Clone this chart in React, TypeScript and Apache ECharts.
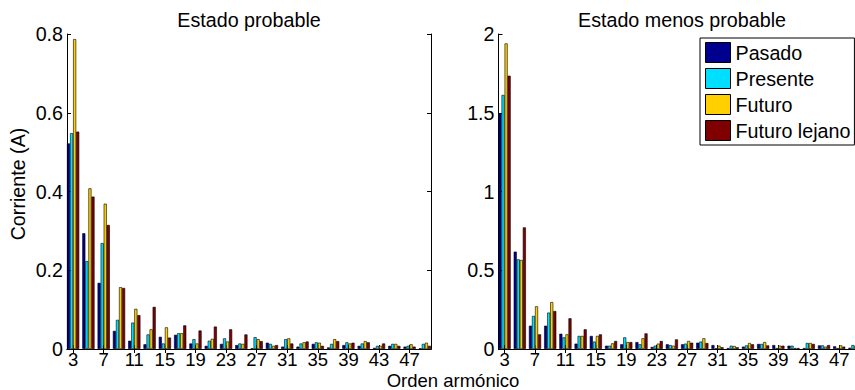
import React, { useEffect, useRef } from "react";
import * as echarts from "echarts";

const harmonics = [3, 5, 7, 9, 11, 13, 15, 17, 19, 21, 23, 25, 27, 29, 31, 33, 35, 37, 39, 41, 43, 45, 47, 49];
const tickLabels = [3, 7, 11, 15, 19, 23, 27, 31, 35, 39, 43, 47];
const seriesNames = ["Pasado", "Presente", "Futuro", "Futuro lejano"];
const seriesColors = ["#00008F", "#00DFFF", "#FFCF00", "#800000"];

const probPasado = [0.522, 0.294, 0.168, 0.046, 0.021, 0.012, 0.031, 0.036, 0.014, 0.008, 0.013, 0.01, 0.002, 0.016, 0.006, 0.006, 0.013, 0.004, 0.01, 0.008, 0.003, 0.008, 0.006, 0.002];
const probPresente = [0.548, 0.223, 0.269, 0.074, 0.067, 0.037, 0.014, 0.04, 0.025, 0.021, 0.027, 0.014, 0.03, 0.013, 0.025, 0.014, 0.017, 0.013, 0.017, 0.014, 0.008, 0.013, 0.008, 0.013];
const probFuturo = [0.787, 0.408, 0.369, 0.157, 0.102, 0.05, 0.055, 0.04, 0.014, 0.026, 0.019, 0.013, 0.025, 0.008, 0.027, 0.017, 0.016, 0.025, 0.014, 0.02, 0.008, 0.013, 0.012, 0.016];
const probLejano = [0.552, 0.387, 0.315, 0.155, 0.086, 0.107, 0.029, 0.06, 0.047, 0.057, 0.05, 0.037, 0.02, 0.01, 0.014, 0.019, 0.008, 0.02, 0.016, 0.017, 0.014, 0.008, 0.006, 0.008];

const menosPasado = [1.497, 0.618, 0.148, 0.148, 0.097, 0.034, 0.083, 0.021, 0.03, 0.044, 0.013, 0.03, 0.03, 0.04, 0.025, 0.006, 0.015, 0.032, 0.025, 0.021, 0.006, 0.023, 0.017, 0.008];
const menosPresente = [1.613, 0.569, 0.21, 0.231, 0.074, 0.083, 0.047, 0.021, 0.074, 0.03, 0.021, 0.025, 0.034, 0.047, 0.004, 0.021, 0.023, 0.032, 0.006, 0.021, 0.038, 0.023, 0.006, 0.025];
const menosFuturo = [1.94, 0.565, 0.271, 0.298, 0.093, 0.083, 0.083, 0.036, 0.044, 0.068, 0.034, 0.021, 0.051, 0.068, 0.021, 0.019, 0.038, 0.044, 0.021, 0.006, 0.038, 0.015, 0.023, 0.02];
const menosLejano = [1.735, 0.772, 0.093, 0.241, 0.195, 0.125, 0.093, 0.051, 0.044, 0.099, 0.051, 0.061, 0.04, 0.038, 0.011, 0.011, 0.03, 0.023, 0.021, 0.006, 0.032, 0.025, 0.015, 0.01];

const probSets = [probPasado, probPresente, probFuturo, probLejano];
const menosSets = [menosPasado, menosPresente, menosFuturo, menosLejano];

const FONT = "'Liberation Sans', Arial, Helvetica, sans-serif";
const FS = 19.7;
const FSX = 18.5;

export default function App() {
  const ref = useRef<HTMLDivElement>(null);
  useEffect(() => {
    if (!ref.current) return;
    const chart = echarts.init(ref.current, null, { renderer: "svg" });
    const axLine = { show: true, lineStyle: { color: "#000", width: 1 } };
    const grids = [
      { left: 67, top: 34, width: 364, height: 315 },
      { left: 498.5, top: 34, width: 362, height: 315 },
    ];
    const xAxes: any[] = [];
    const yAxes: any[] = [];
    const yMax = [0.8, 2];
    const yInt = [0.2, 0.5];
    [0, 1].forEach((g) => {
      xAxes.push({
        type: "value", gridIndex: g, position: "bottom", min: 2.2, max: 49.8,
        axisLine: axLine,
        axisTick: { show: true, inside: true, length: 4, customValues: tickLabels, lineStyle: { color: "#000" } },
        axisLabel: { show: true, customValues: tickLabels, margin: 1, color: "#000", fontFamily: FONT, fontSize: FSX },
        splitLine: { show: false },
      });
      xAxes.push({
        type: "value", gridIndex: g, position: "top", min: 2.2, max: 49.8,
        axisLine: axLine,
        axisTick: { show: true, inside: true, length: 4, customValues: tickLabels, lineStyle: { color: "#000" } },
        axisLabel: { show: false, customValues: tickLabels },
        splitLine: { show: false },
      });
      yAxes.push({
        type: "value", gridIndex: g, position: "left", min: 0, max: yMax[g], interval: yInt[g],
        axisLine: axLine,
        axisTick: { show: true, inside: true, length: 4, lineStyle: { color: "#000" } },
        axisLabel: { show: true, margin: 4, color: "#000", fontFamily: FONT, fontSize: FS },
        splitLine: { show: false },
      });
      yAxes.push({
        type: "value", gridIndex: g, position: "right", min: 0, max: yMax[g], interval: yInt[g],
        axisLine: axLine,
        axisTick: { show: true, inside: true, length: 4, lineStyle: { color: "#000" } },
        axisLabel: { show: false },
        splitLine: { show: false },
      });
    });

    const series: any[] = [];
    [probSets, menosSets].forEach((sets, g) => {
      sets.forEach((vals, i) => {
        series.push({
          type: "bar",
          name: seriesNames[i],
          xAxisIndex: g * 2,
          yAxisIndex: g * 2,
          barGap: "0%",
          barCategoryGap: "20%",
          itemStyle: { color: seriesColors[i], borderColor: "#000", borderWidth: 0.6 },
          data: harmonics.map((h, k) => [h, vals[k]]),
        });
      });
    });

    chart.setOption({
      animation: false,
      backgroundColor: "#fff",
      grid: grids,
      xAxis: xAxes,
      yAxis: yAxes,
      series,
      legend: {
        data: seriesNames,
        orient: "vertical",
        left: 700,
        top: 38,
        itemWidth: 25,
        itemHeight: 20,
        itemGap: 5,
        padding: [4, 4, 4, 5],
        backgroundColor: "#fff",
        borderColor: "#000",
        borderWidth: 1,
        borderRadius: 0,
        icon: "rect",
        itemStyle: { borderColor: "#000", borderWidth: 1 },
        textStyle: { color: "#000", fontFamily: FONT, fontSize: FS },
      },
      graphic: [
        { type: "text", x: 249, y: 20, style: { text: "Estado probable", fill: "#000", font: `${FS}px ${FONT}`, align: "center", verticalAlign: "middle" } },
        { type: "text", x: 682, y: 20, style: { text: "Estado menos probable", fill: "#000", font: `${FS}px ${FONT}`, align: "center", verticalAlign: "middle" } },
        { type: "text", x: 453, y: 389.5, style: { text: "Orden armónico", fill: "#000", font: `${FSX}px ${FONT}`, align: "center", verticalAlign: "bottom" } },
        { type: "text", x: 17.5, y: 184, rotation: Math.PI / 2, style: { text: "Corriente (A)", fill: "#000", font: `${FS}px ${FONT}`, align: "center", verticalAlign: "middle" } },
      ],
    });
    return () => chart.dispose();
  }, []);
  return (
    <div style={{ position: "absolute", left: 0, top: 0, width: 855, height: 390, overflow: "hidden", background: "#fff" }}>
      <div ref={ref} style={{ width: 870, height: 390 }} />
    </div>
  );
}
